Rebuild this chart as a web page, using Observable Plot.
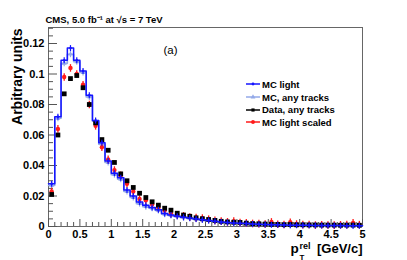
<!DOCTYPE html>
<html><head><meta charset="utf-8">
<script src="https://cdn.jsdelivr.net/npm/d3@7"></script>
<script src="https://cdn.jsdelivr.net/npm/@observablehq/plot@0.6"></script>
<style>
body{margin:0;background:#fff;}
#wrap{position:relative;width:407px;height:260px;font-family:"Liberation Sans",Arial,sans-serif;}
#legend{position:absolute;left:246px;top:78px;font-weight:bold;font-size:9.5px;color:#000;}
.row{height:12.7px;display:flex;align-items:center;white-space:nowrap;}
.row svg{margin-right:2px;flex:none;}
</style></head><body><div id="wrap"></div>
<script>
// ---- data (bin width 0.1 GeV/c, 50 bins from 0 to 5) ----
const binWidth = 0.1;
const mcLight = [0.028,0.072,0.109,0.117,0.109,0.102,0.086,0.0695,0.055,0.043,
  0.035,0.032,0.024,0.020,0.016,0.014,0.0125,0.011,0.0085,0.0075,
  0.0068,0.006,0.0055,0.005,0.0045,0.0040,0.0034,0.003,0.0026,0.0023,
  0.0021,0.0019,0.0016,0.0015,0.0013,0.0012,0.0011,0.001,0.0009,0.0009,
  0.0008,0.0008,0.0007,0.0007,0.0006,0.0006,0.0006,0.0005,0.0005,0.0005];
const mcAnyTracks = [0.027,0.071,0.107,0.113,0.108,0.101,0.085,0.069,0.054,0.042,
  0.034,0.031,0.023,0.019,0.015,0.013,0.012,0.0105,0.008,0.0072,
  0.0065,0.0058,0.0052,0.0048,0.0043,0.0038,0.0033,0.0029,0.0025,0.0022,
  0.002,0.0018,0.0015,0.0014,0.0012,0.0011,0.001,0.0009,0.0009,0.0008,
  0.0008,0.0007,0.0007,0.0006,0.0006,0.0006,0.0005,0.0005,0.0005,0.0005];
const dataAnyTracks = [0.021,0.060,0.087,0.097,0.099,0.091,0.080,0.068,0.057,0.050,
  0.042,0.0345,0.030,0.0256,0.0218,0.019,0.0162,0.014,0.012,0.0107,
  0.0087,0.0075,0.0067,0.0057,0.0051,0.0046,0.004,0.0034,0.003,0.0028,
  0.0027,0.0022,0.0019,0.0018,0.0016,0.0014,0.0014,0.0012,0.0013,0.0011,
  0.0011,0.001,0.001,0.0009,0.0009,0.0009,0.0008,0.0009,0.0009,0.0008];
const mcLightScaled = [0.023,0.064,0.098,0.104,0.100,0.093,0.080,0.066,0.052,0.044,
  0.037,0.0335,0.028,0.023,0.018,0.0172,0.0145,0.0122,0.0105,0.0085,
  0.0075,0.007,0.0062,0.0058,0.0055,0.0048,0.004,0.0036,0.0031,0.0035,
  0.0026,0.0024,0.002,0.0019,0.0016,0.003,0.0015,0.0013,0.0028,0.0016,
  0.0012,0.0013,0.0009,0.0011,0.001,0.0009,0.0011,0.0012,0.0024,0.0012];
const xTicks = [0,0.5,1,1.5,2,2.5,3,3.5,4,4.5,5];
const yTicks = [0,0.02,0.04,0.06,0.08,0.1,0.12];
const legendLabels = ["MC light","MC, any tracks","Data, any tracks","MC light scaled"];
const titleText = "CMS, 5.0 fb⁻¹ at √s = 7 TeV";

// ---- colours / layout ----
const C_BLUE = "#1414ff", C_LBLUE = "#93a9e8", C_BLACK = "#000", C_RED = "#ff1a1a";
const W = 407, H = 260, mL = 48, mR = 45, mT = 27, mB = 34;
const fw = W - mL - mR, fh = H - mT - mB;

const bins = mcLight.map((v, i) => ({
  x0: i * binWidth, xc: (i + 0.5) * binWidth,
  mcLight: v, mcAny: mcAnyTracks[i], data: dataAnyTracks[i], scaled: mcLightScaled[i]
}));
const stepOf = key => bins.map(b => ({x: b.x0, y: b[key]}))
  .concat([{x: bins.length * binWidth, y: bins[bins.length - 1][key]}]);
const yMinor = d3.range(0, 0.1301, 0.005).filter(v => !yTicks.some(t => Math.abs(t - v) < 1e-9));
const xMinor = d3.range(0, 5.0001, 0.1).filter(v => !xTicks.some(t => Math.abs(t - v) < 1e-9));

const vbar = {draw(ctx, size) { const h = Math.sqrt(size / Math.PI); ctx.moveTo(0, -h); ctx.lineTo(0, h); }};

const chart = Plot.plot({
  width: W, height: H, marginLeft: mL, marginRight: mR, marginTop: mT, marginBottom: mB,
  x: {domain: [0, 5]},
  y: {domain: [0, 0.1305]},
  style: {fontFamily: '"Liberation Sans", Arial, sans-serif', fontSize: "11px", fontWeight: "bold", background: "white", overflow: "visible", color: "#000"},
  marks: [
    Plot.frame({stroke: "#666"}),
    Plot.tickY(yTicks, {y: d => d, insetRight: fw - 9, stroke: "#555"}),
    Plot.tickY(yMinor, {y: d => d, insetRight: fw - 5, stroke: "#555"}),
    Plot.tickX(xTicks, {x: d => d, insetTop: fh - 7, stroke: "#555"}),
    Plot.tickX(xMinor, {x: d => d, insetTop: fh - 4, stroke: "#555"}),
    Plot.axisY(yTicks, {tickSize: 0, tickPadding: 4, tickFormat: d => String(+d.toFixed(2)), label: null, fontSize: 11}),
    Plot.axisX(xTicks, {tickSize: 0, tickPadding: 4, tickFormat: d => String(d), label: null, fontSize: 11}),
    // MC, any tracks (light blue)
    Plot.line(stepOf("mcAny"), {x: "x", y: "y", curve: "step-after", stroke: C_LBLUE, strokeWidth: 1.6}),
    Plot.dot(bins, {x: "xc", y: "mcAny", symbol: vbar, r: 3, stroke: C_LBLUE, strokeWidth: 1.2}),
    Plot.dot(bins, {x: "xc", y: "mcAny", symbol: "triangle", r: 1.8, fill: C_LBLUE}),
    // MC light scaled (red)
    Plot.dot(bins, {x: "xc", y: "scaled", symbol: vbar, r: 3.8, stroke: C_RED, strokeWidth: 1.3}),
    Plot.dot(bins, {x: "xc", y: "scaled", r: 2.2, fill: C_RED}),
    // Data, any tracks (black)
    Plot.dot(bins, {x: "xc", y: "data", symbol: "square", r: 2.7, fill: C_BLACK}),
    // MC light (blue)
    Plot.line(stepOf("mcLight"), {x: "x", y: "y", curve: "step-after", stroke: C_BLUE, strokeWidth: 1.5}),
    Plot.dot(bins, {x: "xc", y: "mcLight", symbol: vbar, r: 3, stroke: C_BLUE, strokeWidth: 1.2}),
    Plot.dot(bins, {x: "xc", y: "mcLight", r: 1.3, fill: C_BLUE}),
    // texts
    Plot.text([titleText], {frameAnchor: "top-left", dx: -3, dy: -5, textAnchor: "start", lineAnchor: "bottom", fontSize: 9.5}),
    Plot.text(["(a)"], {frameAnchor: "top-left", dx: 115, dy: 23, textAnchor: "start", lineAnchor: "middle", fontSize: 11.5, fontWeight: "normal"}),
    Plot.text(["Arbitrary units"], {frameAnchor: "top-left", dx: -27, dy: 1, rotate: -90, textAnchor: "end", lineAnchor: "bottom", fontSize: 14}),
    Plot.text(["[GeV/c]"], {frameAnchor: "bottom-right", dx: 0, dy: 26, textAnchor: "end", lineAnchor: "bottom", fontSize: 13}),
    Plot.text(["p"], {frameAnchor: "bottom-right", dx: -72, dy: 26, textAnchor: "start", lineAnchor: "bottom", fontSize: 13.5}),
    Plot.text(["rel"], {frameAnchor: "bottom-right", dx: -63, dy: 22, textAnchor: "start", lineAnchor: "bottom", fontSize: 9}),
    Plot.text(["T"], {frameAnchor: "bottom-right", dx: -63, dy: 33, textAnchor: "start", lineAnchor: "bottom", fontSize: 8})
  ]
});
const wrap = document.getElementById("wrap");
wrap.appendChild(chart);

// legend (HTML overlay inside the frame)
const legendColors = [C_BLUE, C_LBLUE, C_BLACK, C_RED];
const legendSymbols = [d3.symbolCircle, d3.symbolTriangle, d3.symbolSquare, d3.symbolCircle];
const legendSizes = [6, 10, 10, 12];
const lg = d3.select(wrap).append("div").attr("id", "legend");
legendLabels.forEach((lab, i) => {
  const row = lg.append("div").attr("class", "row");
  const s = row.append("svg").attr("width", 14).attr("height", 8);
  s.append("line").attr("x1", 0).attr("x2", 14).attr("y1", 4).attr("y2", 4)
    .attr("stroke", legendColors[i]).attr("stroke-width", 1.5);
  s.append("path").attr("transform", "translate(7,4)")
    .attr("d", d3.symbol(legendSymbols[i], legendSizes[i])()).attr("fill", legendColors[i]);
  row.append("span").text(lab);
});
</script></body></html>
